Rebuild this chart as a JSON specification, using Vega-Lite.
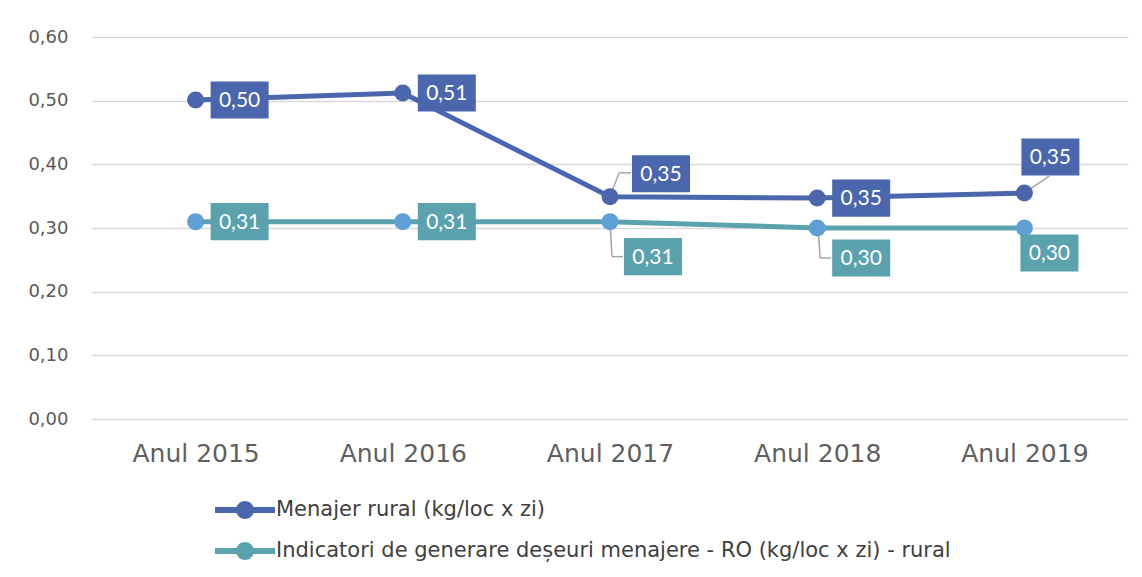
{
  "$schema": "https://vega.github.io/schema/vega-lite/v6.json",
  "width": 1036,
  "height": 382,
  "autosize": "none",
  "padding": {"left": 92, "top": 37, "right": 14, "bottom": 158},
  "background": "white",
  "config": {
    "locale": {"number": {"decimal": ",", "thousands": ".", "grouping": [3], "currency": ["", ""]}},
    "view": {"stroke": null}
  },
  "data": {
    "values": [
      {"year": "Anul 2015", "series": "Menajer rural  (kg/loc x zi)", "value": 0.501},
      {"year": "Anul 2016", "series": "Menajer rural  (kg/loc x zi)", "value": 0.512},
      {"year": "Anul 2017", "series": "Menajer rural  (kg/loc x zi)", "value": 0.349},
      {"year": "Anul 2018", "series": "Menajer rural  (kg/loc x zi)", "value": 0.347},
      {"year": "Anul 2019", "series": "Menajer rural  (kg/loc x zi)", "value": 0.355},
      {"year": "Anul 2015", "series": "Indicatori de generare deșeuri menajere - RO (kg/loc x zi) - rural", "value": 0.31},
      {"year": "Anul 2016", "series": "Indicatori de generare deșeuri menajere - RO (kg/loc x zi) - rural", "value": 0.31},
      {"year": "Anul 2017", "series": "Indicatori de generare deșeuri menajere - RO (kg/loc x zi) - rural", "value": 0.31},
      {"year": "Anul 2018", "series": "Indicatori de generare deșeuri menajere - RO (kg/loc x zi) - rural", "value": 0.30},
      {"year": "Anul 2019", "series": "Indicatori de generare deșeuri menajere - RO (kg/loc x zi) - rural", "value": 0.30}
    ]
  },
  "encoding": {
    "x": {
      "field": "year", "type": "ordinal",
      "scale": {"type": "point", "padding": 0.5},
      "axis": {"title": null, "labelAngle": 0, "ticks": false, "domain": false, "grid": false,
               "labelPadding": 22, "labelFontSize": 25, "labelFont": "DejaVu Sans", "labelColor": "#5F5F5F"}
    },
    "y": {
      "field": "value", "type": "quantitative",
      "scale": {"domain": [0, 0.6], "nice": false},
      "axis": {"title": null, "values": [0, 0.1, 0.2, 0.3, 0.4, 0.5, 0.6], "format": ".2f",
               "ticks": false, "domain": false, "labelPadding": 24, "labelFontSize": 18,
               "labelFont": "DejaVu Sans", "labelColor": "#595959", "gridColor": "#D9D9D9", "gridWidth": 1.5}
    }
  },
  "layer": [
    {
      "mark": {"type": "line", "strokeWidth": 5},
      "encoding": {
        "color": {
          "field": "series", "type": "nominal",
          "scale": {"domain": ["Menajer rural  (kg/loc x zi)", "Indicatori de generare deșeuri menajere - RO (kg/loc x zi) - rural"],
                    "range": ["#4A66AC", "#5AA2AE"]},
          "legend": {
            "title": null, "orient": "none", "legendX": 138, "legendY": 458, "direction": "vertical",
            "symbolType": "M-2,-0.2H2V0.2H-2Z M-0.6,0A0.6,0.6 0 1,1 0.6,0A0.6,0.6 0 1,1 -0.6,0Z",
            "symbolSize": 900, "symbolStrokeWidth": 0,
            "labelFont": "DejaVu Sans", "labelFontSize": 21, "labelColor": "#404040",
            "labelLimit": 1000, "rowPadding": 16, "labelOffset": 16,
            "encode": {"symbols": {"update": {
              "fill": [
                {"test": "datum.value[0] == 'M'", "value": "#4A66AC"},
                {"value": {"gradient": "linear", "x1": 0, "y1": 0, "x2": 1, "y2": 0, "stops": [{"offset": 0, "color": "#5AA2AE"}, {"offset": 0.35, "color": "#5AA2AE"}, {"offset": 0.35, "color": "#5E9FD8"}, {"offset": 0.65, "color": "#5E9FD8"}, {"offset": 0.65, "color": "#5AA2AE"}, {"offset": 1, "color": "#5AA2AE"}]}}
              ],
              "stroke": {"value": "transparent"}, "opacity": {"value": 1}}}}
          }
        }
      }
    },
    {
      "transform": [{"filter": "datum.series[0] == 'M' && datum.year == 'Anul 2017'"}],
      "layer": [
        {"mark": {"type": "rule", "color": "#A6A6A6", "strokeWidth": 1.5, "xOffset": 0, "yOffset": 0, "x2Offset": 9, "y2Offset": -24},
         "encoding": {"x2": {"field": "year"}, "y2": {"field": "value"}}},
        {"mark": {"type": "rule", "color": "#A6A6A6", "strokeWidth": 1.5, "xOffset": 9, "yOffset": -24, "x2Offset": 21, "y2Offset": -24},
         "encoding": {"x2": {"field": "year"}, "y2": {"field": "value"}}}
      ]
    },
    {
      "transform": [{"filter": "datum.series[0] == 'M' && datum.year == 'Anul 2019'"}],
      "mark": {"type": "rule", "color": "#A6A6A6", "strokeWidth": 1.5, "xOffset": 0, "yOffset": 0, "x2Offset": 25, "y2Offset": -17},
      "encoding": {"x2": {"field": "year"}, "y2": {"field": "value"}}
    },
    {
      "transform": [{"filter": "datum.series[0] == 'I' && datum.year == 'Anul 2017'"}],
      "layer": [
        {"mark": {"type": "rule", "color": "#A6A6A6", "strokeWidth": 1.5, "xOffset": 0, "yOffset": 0, "x2Offset": 2, "y2Offset": 35},
         "encoding": {"x2": {"field": "year"}, "y2": {"field": "value"}}},
        {"mark": {"type": "rule", "color": "#A6A6A6", "strokeWidth": 1.5, "xOffset": 2, "yOffset": 35, "x2Offset": 13, "y2Offset": 35},
         "encoding": {"x2": {"field": "year"}, "y2": {"field": "value"}}}
      ]
    },
    {
      "transform": [{"filter": "datum.series[0] == 'I' && datum.year == 'Anul 2018'"}],
      "layer": [
        {"mark": {"type": "rule", "color": "#A6A6A6", "strokeWidth": 1.5, "xOffset": 1, "yOffset": 2, "x2Offset": 3, "y2Offset": 30},
         "encoding": {"x2": {"field": "year"}, "y2": {"field": "value"}}},
        {"mark": {"type": "rule", "color": "#A6A6A6", "strokeWidth": 1.5, "xOffset": 3, "yOffset": 30, "x2Offset": 14, "y2Offset": 30},
         "encoding": {"x2": {"field": "year"}, "y2": {"field": "value"}}}
      ]
    },
    {
      "mark": {"type": "circle", "size": 289, "opacity": 1},
      "encoding": {
        "fill": {
          "field": "series", "type": "nominal",
          "scale": {"domain": ["Menajer rural  (kg/loc x zi)", "Indicatori de generare deșeuri menajere - RO (kg/loc x zi) - rural"],
                    "range": ["#4A66AC", "#5E9FD8"]},
          "legend": null
        }
      }
    },
    {
      "transform": [{"filter": "(datum.series[0] == 'M' && (datum.year == 'Anul 2015' || datum.year == 'Anul 2016' || datum.year == 'Anul 2018')) || (datum.series[0] == 'I' && (datum.year == 'Anul 2015' || datum.year == 'Anul 2016'))"}],
      "layer": [
        {"mark": {"type": "point", "shape": "M-1,-0.64H1V0.64H-1Z", "size": 3364, "filled": true, "opacity": 1, "xOffset": 44, "yOffset": 0},
         "encoding": {"color": {"field": "series", "type": "nominal"}}},
        {"mark": {"type": "text", "color": "white", "font": "Lato", "fontSize": 21, "xOffset": 44, "yOffset": 1},
         "encoding": {"text": {"field": "value", "type": "quantitative", "format": ".2f"}}}
      ]
    },
    {
      "transform": [{"filter": "datum.series[0] == 'M' && datum.year == 'Anul 2017'"}],
      "layer": [
        {"mark": {"type": "point", "shape": "M-1,-0.64H1V0.64H-1Z", "size": 3364, "filled": true, "opacity": 1, "xOffset": 51, "yOffset": -23},
         "encoding": {"color": {"field": "series", "type": "nominal"}}},
        {"mark": {"type": "text", "color": "white", "font": "Lato", "fontSize": 21, "xOffset": 51, "yOffset": -22},
         "encoding": {"text": {"field": "value", "type": "quantitative", "format": ".2f"}}}
      ]
    },
    {
      "transform": [{"filter": "datum.series[0] == 'M' && datum.year == 'Anul 2019'"}],
      "layer": [
        {"mark": {"type": "point", "shape": "M-1,-0.64H1V0.64H-1Z", "size": 3364, "filled": true, "opacity": 1, "xOffset": 26, "yOffset": -36},
         "encoding": {"color": {"field": "series", "type": "nominal"}}},
        {"mark": {"type": "text", "color": "white", "font": "Lato", "fontSize": 21, "xOffset": 26, "yOffset": -35},
         "encoding": {"text": {"field": "value", "type": "quantitative", "format": ".2f"}}}
      ]
    },
    {
      "transform": [{"filter": "datum.series[0] == 'I' && datum.year == 'Anul 2017'"}],
      "layer": [
        {"mark": {"type": "point", "shape": "M-1,-0.64H1V0.64H-1Z", "size": 3364, "filled": true, "opacity": 1, "xOffset": 43, "yOffset": 35},
         "encoding": {"color": {"field": "series", "type": "nominal"}}},
        {"mark": {"type": "text", "color": "white", "font": "Lato", "fontSize": 21, "xOffset": 43, "yOffset": 36},
         "encoding": {"text": {"field": "value", "type": "quantitative", "format": ".2f"}}}
      ]
    },
    {
      "transform": [{"filter": "datum.series[0] == 'I' && datum.year == 'Anul 2018'"}],
      "layer": [
        {"mark": {"type": "point", "shape": "M-1,-0.64H1V0.64H-1Z", "size": 3364, "filled": true, "opacity": 1, "xOffset": 44, "yOffset": 30},
         "encoding": {"color": {"field": "series", "type": "nominal"}}},
        {"mark": {"type": "text", "color": "white", "font": "Lato", "fontSize": 21, "xOffset": 44, "yOffset": 31},
         "encoding": {"text": {"field": "value", "type": "quantitative", "format": ".2f"}}}
      ]
    },
    {
      "transform": [{"filter": "datum.series[0] == 'I' && datum.year == 'Anul 2019'"}],
      "layer": [
        {"mark": {"type": "point", "shape": "M-1,-0.64H1V0.64H-1Z", "size": 3364, "filled": true, "opacity": 1, "xOffset": 25, "yOffset": 25},
         "encoding": {"color": {"field": "series", "type": "nominal"}}},
        {"mark": {"type": "text", "color": "white", "font": "Lato", "fontSize": 21, "xOffset": 25, "yOffset": 26},
         "encoding": {"text": {"field": "value", "type": "quantitative", "format": ".2f"}}}
      ]
    }
  ]
}
